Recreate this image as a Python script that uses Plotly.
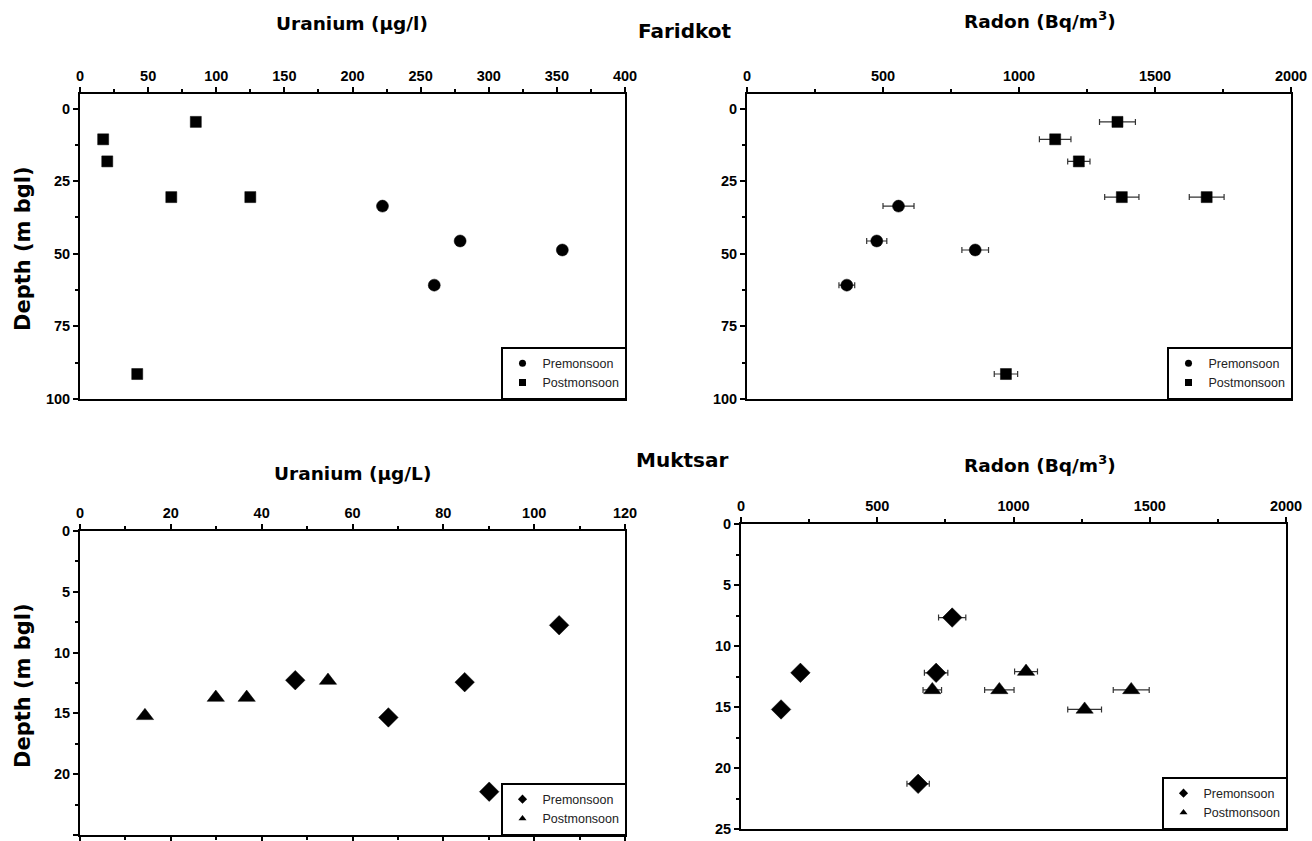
import plotly.graph_objects as go

# ---------------- data ----------------
# Faridkot
fk_pre_depth = [33.6, 45.6, 48.7, 60.8]
fk_pre_uranium = [222, 279, 354, 260]
fk_pre_radon = [557, 477, 839, 367]
fk_pre_radon_err = [57, 37, 49, 29]

fk_post_depth = [4.6, 10.6, 18.2, 30.5, 30.5, 91.4]
fk_post_uranium = [85, 17, 20, 67, 125, 42]
fk_post_radon = [1362, 1133, 1220, 1378, 1690, 952]
fk_post_radon_err = [66, 58, 41, 63, 64, 43]

# Muktsar
mk_pre_u_depth = [7.75, 12.27, 12.43, 15.33, 21.44]
mk_pre_uranium = [105.5, 47.4, 84.7, 67.9, 90.1]
mk_post_u_depth = [15.2, 13.7, 13.7, 12.3]
mk_post_uranium = [14.3, 29.9, 36.7, 54.6]

mk_pre_rn_depth = [7.67, 12.2, 12.2, 15.2, 21.3]
mk_pre_radon = [775, 218, 716, 147, 650]
mk_pre_radon_err = [50, 18, 43, 18, 41]
mk_post_rn_depth = [12.1, 13.6, 13.6, 13.6, 15.2]
mk_post_radon = [1046, 702, 948, 1432, 1261]
mk_post_radon_err = [42, 34, 54, 66, 62]

labels = ["Premonsoon", "Postmonsoon"]

# ---------------- figure ----------------
W, H = 1312, 841


def fx(p):
    return p / W


def fy(p):
    return 1 - p / H


fig = go.Figure()
BLACK = "#000000"
ERR = "#333333"


def add_series(x, y, xa, ya, symbol, size, err=None):
    kw = {}
    if err is not None:
        kw["error_x"] = dict(type="data", array=err, visible=True, color=ERR,
                             thickness=1.2, width=3)
    fig.add_trace(go.Scatter(
        x=x, y=y, xaxis=xa, yaxis=ya, mode="markers", showlegend=False,
        marker=dict(symbol=symbol, size=size, color=BLACK,
                    line=dict(width=0.5, color=BLACK)),
        **kw))


def add_legend_entry(name, symbol, legend, xa, ya):
    fig.add_trace(go.Scatter(
        x=[None], y=[None], xaxis=xa, yaxis=ya, mode="markers", name=name,
        legend=legend, showlegend=True,
        marker=dict(symbol=symbol, size=7, color=BLACK)))


# Top-left: Faridkot uranium
add_series(fk_pre_uranium, fk_pre_depth, "x", "y", "circle", 12)
add_series(fk_post_uranium, fk_post_depth, "x", "y", "square", 11)
add_legend_entry(labels[0], "circle", "legend", "x", "y")
add_legend_entry(labels[1], "square", "legend", "x", "y")

# Top-right: Faridkot radon
add_series(fk_pre_radon, fk_pre_depth, "x2", "y2", "circle", 12, fk_pre_radon_err)
add_series(fk_post_radon, fk_post_depth, "x2", "y2", "square", 11, fk_post_radon_err)
add_legend_entry(labels[0], "circle", "legend2", "x2", "y2")
add_legend_entry(labels[1], "square", "legend2", "x2", "y2")

# Bottom-left: Muktsar uranium
add_series(mk_pre_uranium, mk_pre_u_depth, "x3", "y3", "diamond", 15)
add_series(mk_post_uranium, mk_post_u_depth, "x3", "y3", "triangle-up", 15)
add_legend_entry(labels[0], "diamond", "legend3", "x3", "y3")
add_legend_entry(labels[1], "triangle-up", "legend3", "x3", "y3")

# Bottom-right: Muktsar radon
add_series(mk_pre_radon, mk_pre_rn_depth, "x4", "y4", "diamond", 15, mk_pre_radon_err)
add_series(mk_post_radon, mk_post_rn_depth, "x4", "y4", "triangle-up", 15, mk_post_radon_err)
add_legend_entry(labels[0], "diamond", "legend4", "x4", "y4")
add_legend_entry(labels[1], "triangle-up", "legend4", "x4", "y4")

TICKFONT = dict(family="Liberation Sans, Arial, sans-serif", size=14.5,
                color=BLACK, weight="bold")


def axis(domain, rng, dtick, minor_dtick, anchor, side, mirror=True):
    return dict(
        domain=domain, range=rng, dtick=dtick, tick0=0, anchor=anchor,
        side=side, showline=True, linecolor=BLACK, linewidth=2,
        mirror=mirror, ticks="outside", ticklen=5, tickwidth=1.5,
        tickcolor=BLACK, showgrid=False, zeroline=False, tickfont=TICKFONT,
        tickprefix="<b>", ticksuffix="</b>", automargin=False,
        minor=dict(ticks="outside", ticklen=3, tickwidth=1.5,
                   tickcolor=BLACK, dtick=minor_dtick, tick0=0,
                   showgrid=False),
    )


top_y = [fy(399), fy(94)]
fig.update_layout(
    xaxis=axis([fx(80), fx(625)], [0, 400], 50, 25, "y", "top"),
    yaxis=axis(top_y, [100, -5], 25, 12.5, "x", "left"),
    xaxis2=axis([fx(747), fx(1291)], [0, 2000], 500, 250, "y2", "top"),
    yaxis2=axis(top_y, [100, -5], 25, 12.5, "x2", "left"),
    xaxis3=axis([fx(80), fx(625)], [0, 120], 20, 10, "y3", "top", "allticks"),
    yaxis3=axis([fy(835), fy(531)], [25, 0], 5, 2.5, "x3", "left"),
    xaxis4=axis([fx(741), fx(1286)], [0, 2000], 500, 250, "y4", "top"),
    yaxis4=axis([fy(829), fy(524)], [25, 0], 5, 2.5, "x4", "left"),
)

LEGFONT = dict(family="Liberation Sans, Arial, sans-serif", size=12.5, color="#222222")


def legend(xr, yb):
    return dict(x=fx(xr), y=fy(yb), xanchor="right", yanchor="bottom",
                bgcolor="white", bordercolor=BLACK, borderwidth=1.5,
                font=LEGFONT, itemwidth=30, tracegroupgap=0,
                itemsizing="trace")


fig.update_layout(
    legend=legend(626, 399),
    legend2=legend(1292, 399),
    legend3=legend(626, 835),
    legend4=legend(1287, 829),
)

TITLE = dict(family="DejaVu Sans, Liberation Sans, Arial, sans-serif",
             color=BLACK, weight="bold")
annotations = [
    dict(text="Uranium (µg/l)", x=fx(352), y=fy(24), size=18.5),
    dict(text="Faridkot", x=fx(685), y=fy(31), size=20),
    dict(text="Radon (Bq/m<sup>3</sup>)", x=fx(1040), y=fy(20), size=18.5),
    dict(text="Muktsar", x=fx(682), y=fy(460), size=20),
    dict(text="Uranium (µg/L)", x=fx(352), y=fy(473), size=18.5),
    dict(text="Radon (Bq/m<sup>3</sup>)", x=fx(1040), y=fy(464), size=18.5),
    dict(text="Depth (m bgl)", x=fx(23), y=fy(249), size=21, angle=-90),
    dict(text="Depth (m bgl)", x=fx(23), y=fy(686), size=21, angle=-90),
]
for a in annotations:
    fig.add_annotation(
        text=a["text"], x=a["x"], y=a["y"], xref="paper", yref="paper",
        showarrow=False, xanchor="center", yanchor="middle",
        textangle=a.get("angle", 0),
        font=dict(size=a["size"], **TITLE))

fig.update_layout(
    width=W, height=H, margin=dict(l=0, r=0, t=0, b=0, autoexpand=False),
    paper_bgcolor="white", plot_bgcolor="white",
)

fig.write_html(
    "out.html",
    config={"displayModeBar": False},
    post_script="document.body.style.margin='0';document.body.style.overflow='hidden';",
)
